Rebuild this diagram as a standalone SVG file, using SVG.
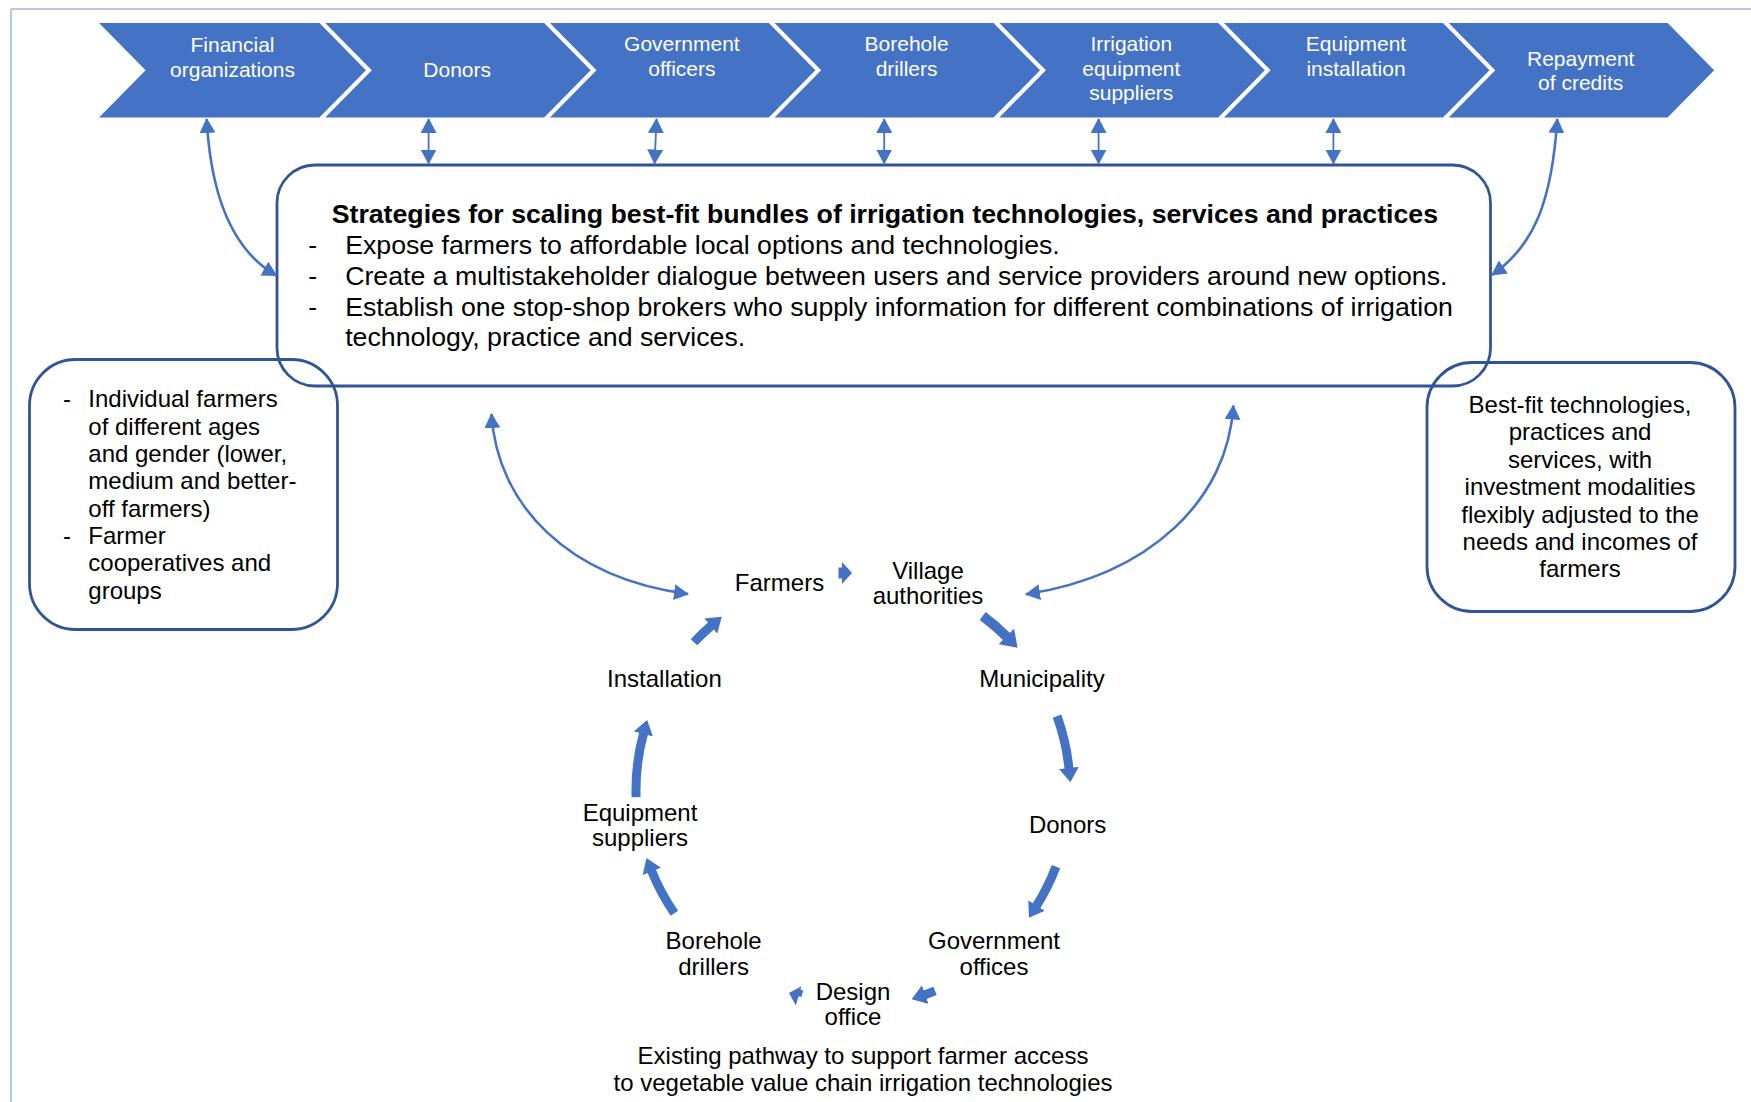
<svg xmlns="http://www.w3.org/2000/svg" width="1751" height="1102" viewBox="0 0 1751 1102">
  <style>
    .chev{fill:#4472c4;stroke:#ffffff;stroke-width:3;stroke-linejoin:miter}
    .ct{font-family:"Liberation Sans",Arial,sans-serif;font-size:21px;fill:#ffffff;text-anchor:middle}
    .box{fill:none;stroke:#2f5597;stroke-width:2.8}
    .bt{font-family:"Liberation Sans",Arial,sans-serif;font-size:26.7px;fill:#000000}
    .st{font-family:"Liberation Sans",Arial,sans-serif;font-size:24px;fill:#000000}
    .mid{text-anchor:middle}
    .link{fill:none;stroke:#4472c4;stroke-width:2.6}
    .thin{fill:none;stroke:#4472c4;stroke-width:1.8}
    .arc{fill:none;stroke:#4472c4;stroke-width:9}
    .head{fill:#4472c4}
  </style>
  <defs>
    <marker id="tip" viewBox="0 0 15 16" refX="14" refY="8" markerWidth="15" markerHeight="16" markerUnits="userSpaceOnUse" orient="auto-start-reverse">
      <path d="M0,0 L15,8 L0,16 z" fill="#4472c4"/>
    </marker>
    <marker id="blockHead" viewBox="0 0 16 22" refX="1" refY="11" markerWidth="1.6" markerHeight="2.2" markerUnits="strokeWidth" orient="auto">
      <path d="M0,0 L16,11 L0,22 z" fill="#4472c4"/>
    </marker>
  </defs>

  <rect width="1751" height="1102" fill="#ffffff"/>

  <!-- page frame -->
  <g id="frame" fill="none" stroke="#b4c7e7" stroke-width="2.2">
    <path d="M11,9 L1751,9 M11,9 L11,1102"/>
  </g>

  <!-- process chevrons -->
  <g id="chev-financial">
    <polygon class="chev" points="95.5,21.5 320,21.5 368,70.3 320,119 95.5,119 143.5,70.3"/>
    <text class="ct" x="232.5" y="52">Financial</text>
    <text class="ct" x="232.5" y="76.5">organizations</text>
  </g>
  <g id="chev-donors">
    <polygon class="chev" points="321.7,21.5 544.7,21.5 592.7,70.3 544.7,119 321.7,119 369.7,70.3"/>
    <text class="ct" x="457.2" y="76.5">Donors</text>
  </g>
  <g id="chev-government">
    <polygon class="chev" points="546.4,21.5 769.4,21.5 817.4,70.3 769.4,119 546.4,119 594.4,70.3"/>
    <text class="ct" x="681.9" y="51">Government</text>
    <text class="ct" x="681.9" y="75.5">officers</text>
  </g>
  <g id="chev-borehole">
    <polygon class="chev" points="771.1,21.5 994.1,21.5 1042.1,70.3 994.1,119 771.1,119 819.1,70.3"/>
    <text class="ct" x="906.6" y="51">Borehole</text>
    <text class="ct" x="906.6" y="75.5">drillers</text>
  </g>
  <g id="chev-irrigation">
    <polygon class="chev" points="995.8,21.5 1218.8,21.5 1266.8,70.3 1218.8,119 995.8,119 1043.8,70.3"/>
    <text class="ct" x="1131.3" y="51">Irrigation</text>
    <text class="ct" x="1131.3" y="75.5">equipment</text>
    <text class="ct" x="1131.3" y="100">suppliers</text>
  </g>
  <g id="chev-installation">
    <polygon class="chev" points="1220.5,21.5 1443.5,21.5 1491.5,70.3 1443.5,119 1220.5,119 1268.5,70.3"/>
    <text class="ct" x="1356" y="51">Equipment</text>
    <text class="ct" x="1356" y="75.5">installation</text>
  </g>
  <g id="chev-repayment">
    <polygon class="chev" points="1445.2,21.5 1668.2,21.5 1716.2,70.3 1668.2,119 1445.2,119 1493.2,70.3"/>
    <text class="ct" x="1580.7" y="65.5">Repayment</text>
    <text class="ct" x="1580.7" y="89.5">of credits</text>
  </g>

  <!-- strategies box -->
  <g id="box-strategies">
    <rect class="box" x="277" y="165" width="1213.5" height="221" rx="38" ry="38"/>
    <text class="bt" x="331.7" y="222.7" font-weight="bold">Strategies for scaling best-fit bundles of irrigation technologies, services and practices</text>
    <text class="bt mid" x="312.6" y="254">-</text>
    <text class="bt" x="345.2" y="254">Expose farmers to affordable local options and technologies.</text>
    <text class="bt mid" x="312.6" y="285">-</text>
    <text class="bt" x="345.2" y="285">Create a multistakeholder dialogue between users and service providers around new options.</text>
    <text class="bt mid" x="312.6" y="315.7">-</text>
    <text class="bt" x="345.2" y="315.7">Establish one stop-shop brokers who supply information for different combinations of irrigation</text>
    <text class="bt" x="345.2" y="346">technology, practice and services.</text>
  </g>

  <!-- farmer groups box -->
  <g id="box-farmers">
    <rect class="box" x="29.5" y="359.5" width="308" height="270" rx="46" ry="46"/>
    <text class="st mid" x="67" y="407">-</text>
    <text class="st" x="88.3" y="407">Individual farmers</text>
    <text class="st" x="88.3" y="434.5">of different ages</text>
    <text class="st" x="88.3" y="462">and gender (lower,</text>
    <text class="st" x="88.3" y="489">medium and better-</text>
    <text class="st" x="88.3" y="516.5">off farmers)</text>
    <text class="st mid" x="67" y="544">-</text>
    <text class="st" x="88.3" y="544">Farmer</text>
    <text class="st" x="88.3" y="571">cooperatives and</text>
    <text class="st" x="88.3" y="598.5">groups</text>
  </g>

  <!-- outcome box -->
  <g id="box-bestfit">
    <rect class="box" x="1427" y="362.5" width="308" height="249" rx="45" ry="45"/>
    <text class="st mid" x="1580" y="412.7">Best-fit technologies,</text>
    <text class="st mid" x="1580" y="440">practices and</text>
    <text class="st mid" x="1580" y="467.5">services, with</text>
    <text class="st mid" x="1580" y="495">investment modalities</text>
    <text class="st mid" x="1580" y="522.5">flexibly adjusted to the</text>
    <text class="st mid" x="1580" y="550">needs and incomes of</text>
    <text class="st mid" x="1580" y="577">farmers</text>
  </g>

  <!-- existing pathway cycle -->
  <g id="cycle-farmers"><text class="st mid" x="779.5" y="591">Farmers</text></g>
  <g id="cycle-village">
    <text class="st mid" x="928" y="578.6">Village</text>
    <text class="st mid" x="928" y="604.3">authorities</text>
  </g>
  <g id="cycle-municipality"><text class="st mid" x="1042" y="687">Municipality</text></g>
  <g id="cycle-donors"><text class="st mid" x="1067.6" y="833">Donors</text></g>
  <g id="cycle-government">
    <text class="st mid" x="994" y="949.4">Government</text>
    <text class="st mid" x="994" y="975">offices</text>
  </g>
  <g id="cycle-design">
    <text class="st mid" x="853" y="999.5">Design</text>
    <text class="st mid" x="853" y="1024.5">office</text>
  </g>
  <g id="cycle-borehole">
    <text class="st mid" x="713.6" y="949.4">Borehole</text>
    <text class="st mid" x="713.6" y="975">drillers</text>
  </g>
  <g id="cycle-equipment">
    <text class="st mid" x="640" y="821">Equipment</text>
    <text class="st mid" x="640" y="845.5">suppliers</text>
  </g>
  <g id="cycle-installation"><text class="st mid" x="664.4" y="687">Installation</text></g>
  <g id="cycle-caption">
    <text class="st mid" x="863" y="1064">Existing pathway to support farmer access</text>
    <text class="st mid" x="863" y="1091">to vegetable value chain irrigation technologies</text>
  </g>

  <!-- connectors -->
  <g id="connectors">
    <!-- chevrons to strategies box -->
    <path class="thin" d="M428.6,119 L428.6,163.5" marker-start="url(#tip)" marker-end="url(#tip)"/>
    <path class="thin" d="M656.5,119 L654.6,163.5" marker-start="url(#tip)" marker-end="url(#tip)"/>
    <path class="thin" d="M884.2,119 L884.2,163.5" marker-start="url(#tip)" marker-end="url(#tip)"/>
    <path class="thin" d="M1098.6,119 L1098.6,163.5" marker-start="url(#tip)" marker-end="url(#tip)"/>
    <path class="thin" d="M1333.4,119 L1333.4,163.5" marker-start="url(#tip)" marker-end="url(#tip)"/>
    <path class="link" d="M206.7,119 C211,200 235,252 276.5,275.5" marker-start="url(#tip)" marker-end="url(#tip)"/>
    <path class="link" d="M1557.3,119 C1552,200 1535,245 1492,275" marker-start="url(#tip)" marker-end="url(#tip)"/>
    <!-- strategies box to the cycle -->
    <path class="link" d="M491.5,414 C497,505 568,578 688,594" marker-start="url(#tip)" marker-end="url(#tip)"/>
    <path class="link" d="M1233.3,405.5 C1228,500 1150,575 1026,594.3" marker-start="url(#tip)" marker-end="url(#tip)"/>

    <!-- cycle arrows, arcs of one circle -->
    <polygon class="head" points="838.5,567.5 842,567.5 842,562 852,573 842,584 842,578.5 838.5,578.5"/>
    <path class="arc" style="stroke-width:10" d="M982.7,616 A217,217 0 0 1 1007,637.1" marker-end="url(#blockHead)"/>
    <path class="arc" d="M1057,716.1 A217,217 0 0 1 1069,768.8" marker-end="url(#blockHead)"/>
    <path class="arc" d="M1056,866.7 A217,217 0 0 1 1036.2,906.3" marker-end="url(#blockHead)"/>
    <path class="arc" d="M935,990.9 A217,217 0 0 1 924.4,994.9" marker-end="url(#blockHead)"/>
    <polygon class="head" points="789,993 801.4,986.2 800.4,989.6 803.2,990.4 801.4,997.1 798.5,996.3 795.8,1005.4"/>
    <path class="arc" d="M674.4,913.2 A217,217 0 0 1 651.5,870.6" marker-end="url(#blockHead)"/>
    <path class="arc" d="M636.1,797.2 A217,217 0 0 1 643.6,733.1" marker-end="url(#blockHead)"/>
    <path class="arc" d="M694,642.3 A217,217 0 0 1 711.5,625.5" marker-end="url(#blockHead)"/>
  </g>
</svg>
